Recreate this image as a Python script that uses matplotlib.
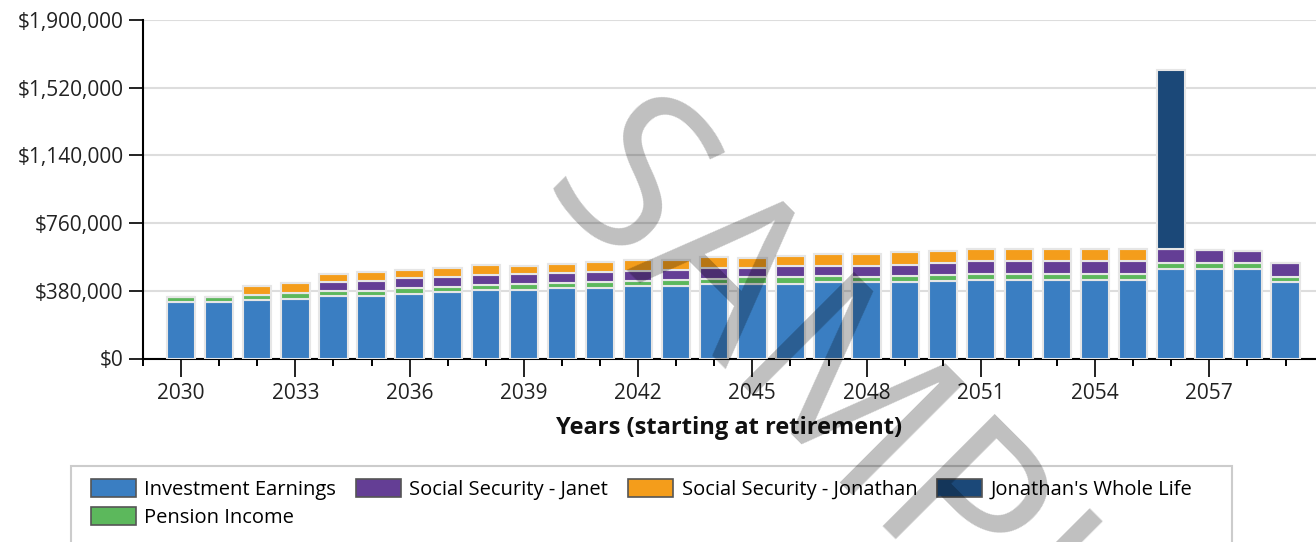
import matplotlib
matplotlib.use('Agg')
import matplotlib.pyplot as plt
from matplotlib.patches import Rectangle
from matplotlib.ticker import FuncFormatter, MultipleLocator
import numpy as np

plt.rcParams['font.family'] = ['Open Sans', 'DejaVu Sans']

years = list(range(2030, 2060))

# values in thousands of dollars
investment = [315, 315, 326, 336, 349, 349, 362, 371, 384, 384,
              395, 396, 406, 406, 420, 420, 420, 429, 429, 431,
              434, 442, 442, 442, 442, 442, 500, 500, 500, 431]
pension = [33, 33, 33, 32, 30, 32, 33, 33, 27, 32,
           27, 33, 29, 34, 27, 35, 38, 32, 28, 32,
           35, 34, 34, 34, 34, 34, 34, 34, 34, 28]
ss_janet = [0, 0, 0, 0, 52, 56, 55, 53, 56, 56,
            56, 55, 56, 56, 62, 53, 62, 60, 64, 62,
            65, 69, 69, 69, 69, 69, 79, 75, 69, 75]
ss_jonathan = [0, 0, 48, 54, 44, 49, 47, 51, 56, 49,
               52, 59, 62, 57, 59, 56, 57, 65, 65, 75,
               69, 70, 70, 70, 70, 70, 0, 0, 0, 0]
whole_life = [0] * 26 + [1004, 0, 0, 0]

series = [
    ('Investment Earnings', investment, '#3a7ec2'),
    ('Pension Income', pension, '#5cb85c'),
    ('Social Security - Janet', ss_janet, '#643e95'),
    ('Social Security - Jonathan', ss_jonathan, '#f49d1b'),
    ("Jonathan's Whole Life", whole_life, '#1b4878'),
]

fig = plt.figure(figsize=(13.16, 5.42), dpi=100)
ax = fig.add_axes([143/1316, 1-358.5/542, (1316-143)/1316, (358.5-20)/542])

x = np.array(years)
bottom = np.zeros(len(years))
handles = []
for name, vals, col in series:
    v = np.array(vals) * 1000.0
    ax.bar(x, v, bottom=bottom, width=0.745, color=col,
           edgecolor='#e6e6e6', linewidth=1.5, label=name, zorder=3)
    bottom += v
    handles.append(Rectangle((0, 0), 1, 1, facecolor=col, edgecolor='#555555', linewidth=1.2))

ax.set_xlim(2029, 2059.8)
ax.set_ylim(0, 1900000)
ax.set_yticks(np.arange(0, 1900001, 380000))
ax.yaxis.set_major_formatter(FuncFormatter(lambda v, p: '${:,.0f}'.format(v)))
ax.set_xticks(np.arange(2030, 2058, 3))
ax.xaxis.set_minor_locator(MultipleLocator(1))

ax.yaxis.grid(True, color='#dddddd', linewidth=1.5, zorder=0)
ax.set_axisbelow(True)
for s in ['top', 'right']:
    ax.spines[s].set_visible(False)
ax.spines['left'].set_linewidth(1.5)
ax.spines['bottom'].set_linewidth(1.5)

ax.tick_params(axis='x', which='major', length=13, width=1.4, labelsize=15,
               colors='#222222', pad=4.5)
ax.tick_params(axis='x', which='minor', length=5, width=1.4)
ax.tick_params(axis='y', length=10, width=1.4, labelsize=15, colors='#222222', pad=4)

ax.set_xlabel('Years (starting at retirement)', fontsize=17, fontweight='bold',
              color='#111111', labelpad=9)

# legend with a hand-drawn frame that runs off the bottom
fig.add_artist(Rectangle((71/1316, -0.05), (1232-71)/1316, (542-466)/542 + 0.05,
                         transform=fig.transFigure, fill=False,
                         edgecolor='#cccccc', linewidth=1.5))
fig.legend(handles, [s[0] for s in series],
           loc='upper left', bbox_to_anchor=(91/1316, 1-479/542), ncol=4,
           frameon=False, fontsize=14.5, handlelength=2.24, handleheight=1.0,
           handletextpad=0.4, columnspacing=1.0, labelspacing=0.36,
           borderpad=0, borderaxespad=0)

# watermark
fig.text(537/1316, 1-192/542, 'SAMPLE', rotation=-45, fontsize=160,
         color='black', alpha=0.25, ha='left', va='baseline',
         rotation_mode='anchor', zorder=10)

fig.savefig('out.png', dpi=100)
